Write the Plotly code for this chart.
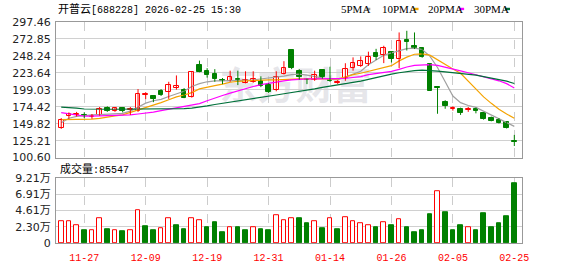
import plotly.graph_objects as go

# ---------------- data ----------------
dates = ["11-24","11-25","11-26","11-27","11-28",
         "12-01","12-02","12-03","12-04","12-05",
         "12-08","12-09","12-10","12-11","12-12",
         "12-15","12-16","12-17","12-18","12-19",
         "12-22","12-23","12-24","12-25","12-26",
         "12-29","12-30","12-31","01-05","01-06",
         "01-07","01-08","01-09","01-12","01-13",
         "01-14","01-15","01-16","01-19","01-20",
         "01-21","01-22","01-23","01-26","01-27",
         "01-28","01-29","01-30","02-02","02-03",
         "02-04","02-05","02-06","02-09","02-10",
         "02-11","02-12","02-13","02-24","02-25"]

open_ = [144.2,160.8,162.6,162.6,159.9,162.6,172.6,168.0,173.1,169.7,
         168.8,191.5,189.4,197.9,196.0,201.5,199.3,188.7,234.8,226.8,
         222.4,212.8,211.7,215.3,208.9,210.0,212.5,206.2,198.3,222.2,
         256.6,226.1,213.9,213.1,227.2,214.2,208.4,216.2,230.4,233.4,
         236.9,252.7,248.9,253.8,243.4,270.9,262.6,259.3,236.5,202.5,
         181.8,171.2,171.8,169.8,171.8,164.9,158.8,155.7,151.9,124.9]
high = [158.0,166.3,167.0,166.3,163.9,174.1,175.0,174.1,174.1,174.1,
        200.1,195.6,190.8,200.1,210.7,219.9,201.5,225.5,241.4,230.4,
        229.0,216.2,226.8,226.8,225.9,225.9,218.6,208.4,225.9,240.6,
        257.9,229.0,215.3,226.8,229.0,232.5,213.1,237.6,246.1,247.5,
        254.4,258.5,263.0,254.8,282.3,284.7,282.3,260.7,237.9,204.5,
        183.9,175.0,173.1,174.1,173.1,165.7,160.2,158.0,153.3,133.6]
low = [142.3,157.0,160.3,158.0,157.0,161.6,167.0,167.0,166.3,162.6,
       167.0,185.5,181.1,190.1,185.9,199.3,186.9,187.7,224.5,216.7,
       210.7,207.3,210.7,205.9,208.4,209.3,202.9,194.6,196.9,221.3,
       229.0,213.9,207.3,212.1,215.3,210.7,207.6,212.1,226.8,232.3,
       233.8,242.4,237.8,238.7,230.4,256.1,258.2,245.6,197.4,164.3,
       171.5,168.8,162.6,167.0,164.9,155.7,153.3,150.1,142.9,117.5]
close = [155.7,163.5,164.3,160.8,161.2,171.8,169.0,173.1,168.0,171.8,
         192.4,192.0,185.9,192.2,206.2,203.9,187.7,224.5,225.6,220.0,
         214.2,211.7,218.0,213.9,213.5,215.3,205.0,196.5,217.6,231.4,
         230.7,217.6,213.1,220.0,217.2,212.1,210.7,229.0,238.3,240.6,
         246.5,246.8,259.3,243.1,269.9,268.6,259.3,246.9,197.4,201.5,
         174.9,172.2,165.7,170.8,168.8,156.6,154.3,151.1,144.2,123.0]

ma5 = [151.1,157.7,160.5,161.9,162.6,163.0,163.9,164.6,164.9,168.0,
       173.6,179.7,183.2,185.2,189.4,192.8,197.0,203.9,208.0,210.7,
       212.1,212.1,212.1,212.8,213.1,213.5,214.9,215.5,216.9,219.0,
       221.1,221.8,220.4,218.3,216.2,214.2,213.5,217.6,221.8,225.9,
       235.5,242.4,249.3,252.7,255.5,258.9,259.6,257.5,247.9,231.4,
       210.7,190.0,180.4,176.3,173.6,168.0,162.6,157.0,152.2,146.0]
ma10 = [155.7,155.7,155.7,155.7,156.4,157.7,159.8,161.2,162.6,166.0,
        170.1,173.6,176.3,180.4,184.6,188.7,191.5,194.9,200.4,203.2,
        205.2,207.3,210.0,211.4,212.1,212.8,213.1,213.5,213.5,214.2,
        214.9,214.9,214.9,214.9,214.4,214.4,214.9,217.6,221.1,223.1,
        225.9,229.3,231.4,234.1,241.0,246.5,250.7,251.3,249.3,242.4,
        235.5,229.3,223.1,212.1,201.1,188.7,179.4,170.8,163.9,157.7]
ma20 = [166.0,163.9,161.9,160.8,160.8,161.2,161.2,161.6,161.9,162.6,
        163.9,164.9,166.7,168.7,170.8,172.9,174.9,177.0,179.1,183.2,
        187.3,190.8,194.2,197.6,201.1,203.9,206.6,208.7,210.7,212.1,
        213.5,214.4,214.9,214.9,214.9,214.9,214.9,215.5,216.9,218.3,
        221.1,222.4,223.8,225.9,228.6,232.1,234.4,235.3,235.5,234.5,
        232.1,229.3,226.6,223.8,221.1,218.3,215.5,212.1,208.0,201.8]
ma30 = [174.0,173.6,172.6,171.2,170.8,170.8,170.8,170.8,170.8,170.8,
        170.8,170.8,170.8,170.8,170.8,171.2,171.8,172.6,173.6,175.6,
        177.7,179.3,181.1,183.2,184.6,186.2,188.0,189.7,191.5,193.3,
        194.9,196.5,198.3,200.4,202.5,204.2,206.2,208.0,209.8,211.7,
        214.2,216.9,219.4,221.8,223.8,225.5,226.8,227.6,227.2,226.3,
        225.2,224.1,223.1,221.8,220.4,218.3,216.2,214.2,211.7,208.2]

volume = [30500,30500,25200,17500,17500,34600,20200,17500,16200,17500,
          46700,24300,17500,21100,34600,25600,18900,35900,31900,22900,
          29700,14800,22500,22900,17500,22500,20200,17500,40000,31900,
          34600,35000,28300,30500,21600,34600,18900,37300,30500,27900,
          25200,22900,29200,25600,33200,22900,14800,17500,40400,73700,
          43100,17500,25600,22500,17500,41800,22900,28300,37700,85547]
vol_up_idx = [0,1,2,4,5,7,9,10,13,14,17,18,22,25,28,29,30,33,35,37,
              38,39,40,42,44,49,53]

price_ticks = [100.60,125.21,149.82,174.42,199.03,223.64,248.24,272.85,297.46]
vol_ticks = [0, 2.30, 4.61, 6.91, 9.21]
vol_ticktext = ["0", "2.30万", "4.61万", "6.91万", "9.21万"]
label_idx = [3, 11, 19, 27, 35, 43, 51, 59]

title_name = "开普云"
title_rest = "[688228] 2026-02-25 15:30"

# ---------------- style ----------------
RED = "#ff0000"
GREEN = "#008000"
MA_COLORS = ["#a0a0a0", "#f5a300", "#ff00ff", "#00703a"]
W, H = 578, 276
L, R, T, B = 55, 522, 22, 255

def px(v):
    return (v - L) / (R - L)

def py(v):
    return (B - v) / (B - T)

N = len(dates)
xi = list(range(N))

fig = go.Figure()

# moving averages
for name, vals, col in zip(["MA5", "MA10", "MA20", "MA30"], [ma5, ma10, ma20, ma30], MA_COLORS):
    fig.add_trace(go.Scatter(x=xi, y=vals, mode="lines", name=name,
                             line=dict(color=col, width=1.2), hoverinfo="skip",
                             xaxis="x", yaxis="y"))

# wicks
for up, col in [(True, RED), (False, GREEN)]:
    wx, wy = [], []
    for i in range(N):
        if (close[i] > open_[i]) == up:
            wx += [i, i, None]
            wy += [low[i], high[i], None]
    fig.add_trace(go.Scatter(x=wx, y=wy, mode="lines", line=dict(color=col, width=1),
                             hoverinfo="skip", xaxis="x", yaxis="y"))

# bodies
MINH = 1.3
for up, col, fill in [(True, RED, "white"), (False, GREEN, GREEN)]:
    bx, bh, bb = [], [], []
    for i in range(N):
        if (close[i] > open_[i]) == up:
            h = abs(close[i] - open_[i])
            lo = min(open_[i], close[i])
            if h < MINH:
                mid = lo + h / 2
                h = MINH
                lo = mid - h / 2
            bx.append(i); bh.append(h); bb.append(lo)
    fig.add_trace(go.Bar(x=bx, y=bh, base=bb, width=0.6,
                         marker=dict(color=fill, line=dict(color=col, width=1)),
                         hoverinfo="skip", xaxis="x", yaxis="y"))

# volume
for up, col, fill in [(True, RED, "white"), (False, GREEN, GREEN)]:
    vx = [i for i in range(N) if (i in vol_up_idx) == up]
    vy = [volume[i] / 10000 for i in vx]
    fig.add_trace(go.Bar(x=vx, y=vy, width=0.6,
                         marker=dict(color=fill, line=dict(color=col, width=1)),
                         hoverinfo="skip", xaxis="x2", yaxis="y2"))

xrange = [-0.68, 60.0]
axis_common = dict(showline=True, mirror=True, linecolor="#999999", linewidth=1,
                   zeroline=False, ticks="")
fig.update_layout(
    width=W, height=H,
    margin=dict(l=L, r=W - R, t=T, b=H - B, pad=0),
    paper_bgcolor="white", plot_bgcolor="white",
    showlegend=False, barmode="overlay", bargap=0,
    font=dict(family="DejaVu Sans, Noto Sans CJK SC", size=11, color="#222222"),
    xaxis=dict(domain=[0, 1], range=xrange, anchor="y", tickvals=label_idx,
               showticklabels=False, showgrid=True, gridcolor="#cccccc",
               griddash="dash", gridwidth=1, **axis_common),
    yaxis=dict(domain=[py(165), 1], range=[price_ticks[0], price_ticks[-1]],
               tickvals=price_ticks, ticktext=["%.2f" % v for v in price_ticks],
               showgrid=True, gridcolor="#d0d0d0", gridwidth=1,
               ticklabelstandoff=2, anchor="x", **axis_common),
    xaxis2=dict(domain=[0, 1], range=xrange, anchor="y2", tickvals=label_idx,
                ticktext=[dates[i] for i in label_idx],
                tickfont=dict(family="Liberation Mono", size=10, color=RED),
                showgrid=True, gridcolor="#cccccc", griddash="dash", gridwidth=1,
                ticklabelstandoff=5, **axis_common),
    yaxis2=dict(domain=[0, py(186.7)], range=[0, vol_ticks[-1]],
                tickvals=vol_ticks, ticktext=vol_ticktext,
                showgrid=True, gridcolor="#d0d0d0", gridwidth=1,
                ticklabelstandoff=2, anchor="x2", **axis_common),
)

ann = []
ann.append(dict(xref="paper", yref="paper", x=px(55), y=py(8.5), xanchor="left", yanchor="middle",
                showarrow=False,
                text="<span style='font-size:11px'>%s</span>%s" % (title_name, title_rest),
                font=dict(family="Liberation Mono, Noto Sans CJK SC", size=10, color="#000000")))
legend_items = [("5PMA", 338.3, 366, 370), ("10PMA", 380, 413.3, 418.3),
                ("20PMA", 426, 459.3, 464), ("30PMA", 471.7, 505, 510)]
shapes = []
for (txt, tx, s0, s1), col in zip(legend_items, MA_COLORS):
    ann.append(dict(xref="paper", yref="paper", x=px(tx), y=py(8.5), xanchor="left", yanchor="middle",
                    showarrow=False, text=txt,
                    font=dict(family="Liberation Serif", size=11, color="#000000")))
    shapes.append(dict(type="rect", xref="paper", yref="paper", x0=px(s0), x1=px(s1),
                       y0=py(9.5), y1=py(7.0), fillcolor=col, line=dict(width=0)))
ann.append(dict(xref="paper", yref="paper", x=px(57.5), y=py(176.7), xanchor="left", yanchor="middle",
                showarrow=False,
                text="<span style='font-size:11px'>成交量</span>:%d" % volume[-1],
                font=dict(family="Liberation Mono, Noto Sans CJK SC", size=10, color="#000000")))
# watermark
shapes.append(dict(type="rect", xref="paper", yref="paper", layer="below",
                   x0=px(210), x1=px(380), y0=py(110), y1=py(74),
                   line=dict(width=0), fillcolor="rgba(0,0,0,0)",
                   label=dict(text="东方财富", textposition="middle center",
                              font=dict(family="Noto Sans CJK SC", size=38,
                                        color="rgba(200,200,208,0.45)", weight="bold"))))
fig.update_layout(annotations=ann, shapes=shapes)

fig.write_html("out.html")
